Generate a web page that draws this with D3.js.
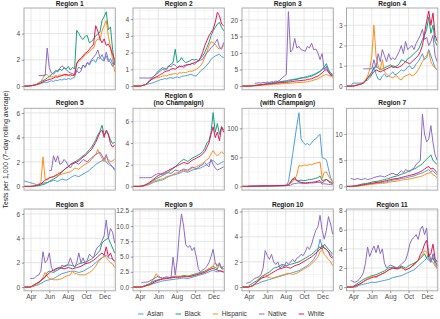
<!DOCTYPE html>
<html><head><meta charset="utf-8">
<script src="https://cdn.jsdelivr.net/npm/d3@7"></script>
<style>
body{margin:0;background:#fff}
svg{display:block}
text{font-family:"Liberation Sans",Arial,Helvetica,sans-serif}
</style>
</head><body>
<svg id="chart" width="440" height="319"></svg>
<script>
// ---------- DATA ----------
const dates = ["2020-03-09","2020-03-16","2020-03-23","2020-03-30","2020-04-06","2020-04-13","2020-04-20","2020-04-27",
"2020-05-04","2020-05-11","2020-05-18","2020-05-25","2020-06-01","2020-06-08","2020-06-15","2020-06-22","2020-06-29",
"2020-07-06","2020-07-13","2020-07-20","2020-07-27","2020-08-03","2020-08-10","2020-08-17","2020-08-24","2020-08-31",
"2020-09-07","2020-09-14","2020-09-21","2020-09-28","2020-10-05","2020-10-12","2020-10-19","2020-10-26",
"2020-11-02","2020-11-09","2020-11-16","2020-11-23","2020-11-30","2020-12-07","2020-12-14","2020-12-21","2020-12-28","2021-01-04"];

const regionTitles = ["Region 1","Region 2","Region 3","Region 4","Region 5","Region 6\n(no Champaign)",
"Region 6\n(with Champaign)","Region 7","Region 8","Region 9","Region 10","Region 11"];

const groups = ["Asian","Black","Hispanic","Native","White"];
const groupColors = ["#4B9FDB","#17A07A","#FF8C1A","#8C6BC8","#E3174F"];

const yUpper = [5.95, 4.66, 23.6, 3.85, 6.38, 7.2, 134.6, 14.9, 6.4, 12.8, 6.2, 8.18];
const yTicks = [[0,2,4],[0,1,2,3,4],[0,5,10,15,20],[0,1,2,3],[0,2,4,6],[0,2,4,6],[0,50,100],[0,5,10],
[0,2,4,6],[0,2.5,5,7.5,10,12.5],[0,2,4,6],[0,2,4,6,8]];
const yTickLabels = [["0","2","4"],["0","1","2","3","4"],["0","5","10","15","20"],["0","1","2","3"],["0","2","4","6"],
["0","2","4","6"],["0","50","100"],["0","5","10"],["0","2","4","6"],["0.0","2.5","5.0","7.5","10.0","12.5"],
["0","2","4","6"],["0","2","4","6","8"]];

const xTicks = ["2020-04-01","2020-06-01","2020-08-01","2020-10-01","2020-12-01"];
const xTickLabels = ["Apr","Jun","Aug","Oct","Dec"];
const xMinor = ["2020-05-01","2020-07-01","2020-09-01","2020-11-01","2021-01-01"];
const xLimits = ["2020-03-09","2021-01-06"];

const N = null;
const asian = [
[0,0,0,0.02,0.04,0.08,0.1,0.14,0.2,0.25,0.3,0.28,0.35,0.4,0.36,0.45,0.42,0.5,0.46,0.55,0.5,0.58,0.52,0.6,0.68,1.2,1.45,1.3,1.6,1.5,1.75,1.6,1.9,2.0,1.8,2.2,2.1,2.4,2.0,2.3,1.85,2.1,1.7,1.9],
[0,0,0,0,0.02,0.05,0.08,0.12,0.15,0.18,0.22,0.28,0.32,0.38,0.4,0.45,0.42,0.48,0.5,0.46,0.52,0.55,0.5,0.58,0.6,0.62,0.65,0.7,0.68,0.62,0.6,0.75,0.9,1.0,1.1,1.25,1.4,1.6,1.7,1.8,1.85,1.9,1.75,1.7],
[0,0,0,0,0.05,0.1,0.15,0.2,0.25,0.3,0.4,0.5,0.6,0.7,0.8,0.9,1.0,1.1,1.2,1.3,1.5,1.6,1.8,1.9,2.0,2.1,2.2,2.4,2.5,2.6,2.8,2.9,3.1,3.3,3.5,3.8,4.2,4.5,5.0,5.3,5.7,4.5,3.6,3.2],
[0,0,0,0.15,0.15,0.15,0.15,0.15,0.15,0.25,0.3,0.4,0.55,0.95,0.6,0.35,0.3,0.5,0.6,0.45,0.5,0.6,0.7,0.55,0.6,0.7,0.8,0.75,0.8,0.95,1.0,0.85,0.9,1.1,1.2,1.4,1.6,1.3,1.4,1.8,1.5,1.2,0.9,0.8],
[0.45,0.4,0.35,0.3,0.25,0.2,0.15,0.12,0.2,0.25,0.3,0.32,0.4,0.42,0.5,0.45,0.4,0.5,0.6,0.55,0.5,0.6,0.7,0.8,0.9,0.85,0.8,0.9,1.0,1.1,1.2,1.3,1.5,1.6,1.8,1.9,2.0,2.1,2.2,2.0,1.8,1.7,1.6,1.3],
[0,0,0,0,0.02,0.05,0.08,0.12,0.2,0.3,0.4,0.45,0.5,0.55,0.6,0.7,0.8,0.9,1.0,1.05,1.1,1.15,1.2,1.3,1.4,1.35,1.3,1.4,1.5,1.55,1.6,1.65,1.7,1.8,1.9,2.0,2.2,2.3,2.4,2.2,2.0,2.1,2.2,2.3],
[0,0,0,0,0.1,0.2,0.3,0.4,0.5,0.6,0.7,0.8,0.9,1.0,1.1,1.2,1.3,1.4,1.5,1.6,1.8,2,8,30,55,80,105,127,82,76,72,74,71,75,80,82,86,90,50,48,46,30,15,8],
[0,0,0,0,0.02,0.05,0.1,0.2,0.3,0.35,0.4,0.45,0.5,0.55,0.6,0.7,0.72,0.75,0.8,0.9,1.0,1.1,1.2,1.25,1.3,1.4,1.5,1.55,1.6,1.7,1.8,1.9,2.0,2.15,2.3,2.45,2.6,2.8,3.0,3.2,2.8,3.0,2.5,2.2],
[0,0,0,0,0.05,0.1,0.15,0.2,0.3,0.4,0.5,0.55,0.6,0.65,0.7,0.8,0.9,1.0,1.1,1.15,1.2,1.25,1.3,1.3,1.3,1.25,1.2,1.25,1.3,1.4,1.5,1.6,1.7,1.85,2.0,2.15,2.3,2.4,2.5,2.6,2.4,2.35,2.3,2.1],
[0,0,0,0,0.02,0.05,0.2,0.3,0.4,0.5,0.6,0.7,0.8,0.9,1.0,1.05,1.1,1.15,1.2,1.25,1.3,1.35,1.4,1.45,1.5,1.45,1.4,1.5,1.6,1.7,1.8,1.9,2.0,2.1,2.2,2.35,2.5,2.65,2.8,2.6,2.5,2.6,2.6,2.4],
[0,0,0,0,0.05,0.1,0.2,0.25,0.3,0.4,0.45,0.5,0.55,0.6,0.65,0.7,0.75,0.8,0.85,0.9,0.95,1.0,1.05,1.1,1.15,1.2,1.25,1.3,1.4,1.5,1.6,1.7,1.85,2.0,2.2,2.5,3.0,3.8,3.2,3.1,3.0,2.8,2.6,2.4],
[0,0,0,0,0,0.05,0.2,0.25,0.3,0.35,0.4,0.45,0.5,0.5,0.5,0.55,0.6,0.65,0.7,0.75,0.8,0.9,1.0,1.05,1.1,1.15,1.2,1.3,1.4,1.5,1.6,1.7,1.8,2.0,2.2,2.4,2.6,2.8,3.0,2.8,2.6,3.2,2.4,2.0]
];
const black = [
[0,0,0,0.02,0.05,0.1,0.15,0.25,0.35,0.42,0.5,0.62,0.72,0.9,1.0,1.2,1.08,1.3,1.18,1.4,1.3,1.5,1.22,1.42,1.3,4.25,4.0,3.7,3.55,3.8,3.85,3.3,3.4,3.6,3.8,4.0,4.1,5.0,5.3,5.66,4.3,4.5,2.8,1.6],
[0,0,0,0,0.02,0.06,0.1,0.2,0.38,0.5,0.6,0.75,0.9,1.0,1.1,1.05,1.0,1.2,1.3,1.4,2.2,1.4,1.5,1.7,1.5,1.4,1.45,1.5,1.6,1.55,1.6,1.5,1.65,1.8,2.0,2.3,2.6,3.0,3.3,3.5,3.7,3.8,3.5,3.3],
[0,0,0,0,0.05,0.1,0.2,0.3,0.4,0.45,0.5,0.6,0.8,0.9,1.0,1.1,1.2,1.25,1.3,1.4,1.5,1.45,1.5,1.7,1.8,2.0,2.0,2.2,2.4,2.5,2.5,2.7,2.9,3.0,3.3,3.6,4.0,4.4,5.0,5.8,6.8,5.0,4.0,3.5],
[0,0,0,0,0.02,0.05,0.08,0.1,0.15,0.25,0.4,0.55,0.7,0.9,1.0,0.9,0.8,0.85,0.9,0.95,1.0,1.05,0.9,0.95,1.0,1.1,1.3,1.25,1.2,1.35,1.4,1.5,1.6,1.7,1.8,2.0,2.3,2.5,2.8,3.4,2.6,3.0,2.2,2.0],
[0,0,0,0,0,0.02,0.04,0.06,0.1,0.15,0.2,0.3,0.4,0.5,0.6,0.7,0.8,1.0,1.2,1.35,1.5,1.6,1.8,1.9,2.0,2.1,2.2,2.35,2.5,2.6,2.8,3.0,3.2,3.5,3.8,4.2,4.5,5.0,4.2,4.5,4.2,3.8,3.5,3.6],
[0,0,0,0,0.02,0.05,0.15,0.25,0.3,0.45,0.6,0.7,0.8,0.9,1.0,1.1,1.2,1.35,1.5,1.65,1.8,2.0,2.2,2.35,2.5,2.4,2.3,2.45,2.6,2.7,2.8,2.9,3.0,3.2,3.5,4.0,4.2,5.0,6.8,5.0,5.8,4.8,5.5,5.2],
[0,0,0,0,0.05,0.1,0.15,0.2,0.25,0.3,0.35,0.4,0.45,0.5,0.55,0.6,0.65,0.7,0.8,0.9,1.0,1.2,2,6,12,12,10,10,11,10,10,11,12,12,13,14,15,18,10,11,12,10,8,6],
[0,0,0,0.05,0.1,0.2,0.3,0.4,0.5,0.55,0.6,0.7,0.8,0.9,0.95,1.0,1.1,1.2,1.3,1.4,1.5,1.65,1.8,1.9,2.0,2.15,2.3,2.45,2.6,2.8,3.0,3.15,3.3,3.5,3.8,4.0,4.3,4.8,5.2,5.6,6.0,5.0,4.5,4.2],
[0,0,0,0,0.1,0.2,0.3,0.4,0.5,0.65,0.8,1.2,1.3,1.25,1.2,1.3,1.4,1.5,1.6,1.7,1.8,1.8,1.8,1.75,1.7,1.8,1.9,1.95,2.0,2.05,2.1,2.2,2.3,2.45,2.6,2.8,3.0,3.6,3.8,3.9,4.0,3.6,3.2,2.8],
[0,0,0,0,0.05,0.15,0.3,0.45,0.6,0.8,1.0,1.1,1.2,1.3,1.4,1.45,1.5,1.55,1.6,1.7,1.8,1.75,1.7,1.8,1.9,1.85,1.8,1.9,2.0,2.1,2.2,2.3,2.4,2.5,2.6,2.8,3.0,3.2,3.4,3.2,3.0,3.8,3.2,3.0],
[0,0,0,0.05,0.2,0.3,0.4,0.5,0.65,0.8,0.9,1.0,1.1,1.2,1.35,1.5,1.55,1.6,1.7,1.8,1.75,1.7,1.75,1.8,1.85,1.9,1.95,2.0,2.1,2.2,2.3,2.4,2.5,2.6,2.75,2.9,3.05,3.2,3.0,3.4,3.2,3.0,2.8,2.6],
[0,0,0,0.05,0.2,0.35,0.5,0.65,0.8,0.9,1.0,1.1,1.2,1.25,1.3,1.4,1.5,1.6,1.7,1.85,2.0,2.05,2.1,2.05,2.0,2.1,2.2,2.1,2.0,2.15,2.3,2.4,2.5,2.65,2.8,3.0,3.2,3.5,3.0,3.6,2.8,3.0,2.6,2.4]
];
const hispanic = [
[0,0,0,0.02,0.04,0.08,0.12,0.2,0.35,0.6,0.9,0.85,0.7,0.75,0.7,0.8,0.75,0.85,0.8,0.9,0.78,0.85,0.75,0.9,0.8,1.8,1.9,2.0,2.2,2.4,2.5,2.6,2.8,2.9,3.4,3.6,3.5,4.2,4.6,5.0,3.8,3.0,2.0,1.1],
[0,0,0,0,0.02,0.05,0.1,0.18,0.3,0.4,0.45,0.5,0.5,0.55,0.6,0.62,0.6,0.68,0.7,0.72,0.75,0.7,0.8,0.78,0.82,0.8,0.85,0.9,0.88,0.95,1.0,1.1,1.2,1.4,1.7,2.0,2.4,2.65,2.6,2.5,2.3,2.2,2.35,2.4],
[0,0,0,0,0.02,0.05,0.08,0.1,0.12,0.2,0.3,0.35,0.4,0.45,0.5,0.55,0.6,0.6,0.62,0.7,0.75,0.8,0.8,0.85,0.9,1.0,1.0,1.1,1.1,1.2,1.2,1.3,1.45,1.6,1.8,2.0,2.2,2.6,3.0,3.3,3.5,3.2,3.0,2.6],
[0,0,0,0,0.02,0.04,0.08,0.12,0.2,0.3,0.5,0.8,1.5,3.0,1.5,1.0,0.8,1.3,0.7,0.6,0.5,0.45,0.4,0.5,0.5,0.35,0.3,0.45,0.5,0.55,0.6,0.5,0.55,0.65,0.8,1.0,1.2,1.4,1.5,1.7,1.2,1.0,0.9,0.8],
[0,0,0,0,0.02,0.05,0.1,0.2,0.3,2.4,0.6,0.5,0.7,0.75,0.8,0.85,0.9,0.95,1.0,1.05,1.1,1.15,1.2,1.3,1.5,1.45,1.4,1.55,1.7,1.8,1.9,2.0,2.2,2.4,2.6,3.0,2.6,2.3,2.0,2.4,2.2,2.0,2.1,2.2],
[0,0,0,0,0.02,0.04,0.1,0.2,0.3,0.4,0.5,0.55,0.6,0.65,0.7,0.8,0.9,0.95,1.0,1.1,1.2,1.25,1.3,1.4,1.5,1.45,1.4,1.55,1.7,1.75,1.8,1.9,2.0,2.15,2.3,2.45,2.6,3.0,3.3,3.0,2.8,3.0,3.2,3.0],
[0,0,0,0,0.05,0.1,0.15,0.2,0.3,0.35,0.4,0.5,0.6,0.7,0.8,0.9,1.0,1.1,1.2,1.3,1.5,1.8,2.5,5,8,12,20,36,35,36,37,36,38,37,39,40,41,42,14,24,25,18,12,8],
[0,0,0,0,0.02,0.05,0.1,0.15,0.2,0.25,0.3,0.35,0.4,0.45,0.5,0.55,0.58,0.6,0.6,0.7,0.8,0.85,0.9,0.95,1.0,1.1,1.2,1.25,1.3,1.35,1.4,1.5,1.6,1.7,1.8,1.9,2.0,2.2,2.4,2.55,2.7,2.2,2.0,1.6],
[0,0,0,0,0.05,0.1,0.2,0.3,0.5,0.8,1.2,0.9,0.7,0.65,0.6,0.6,0.6,0.65,0.7,0.8,0.9,0.95,1.0,1.3,1.1,1.1,1.0,1.0,1.0,1.0,1.1,1.2,1.3,1.5,1.7,2.0,2.2,2.4,2.6,2.4,2.2,2.0,1.9,1.6],
[0,0,0,0,0.02,0.1,0.2,0.35,0.5,1.0,1.5,2.2,1.6,1.5,1.4,1.45,1.5,1.55,1.6,1.65,1.7,1.75,1.8,1.75,1.7,1.75,1.8,1.85,1.9,1.95,2.0,2.1,2.2,2.35,2.5,2.75,3.0,3.2,3.5,4.0,3.2,3.5,3.0,2.8],
[0,0,0,0,0.05,0.1,0.2,0.35,0.5,0.65,0.8,1.0,0.8,0.75,0.7,0.75,0.8,0.85,0.9,0.95,1.0,1.05,1.1,1.05,1.0,1.05,1.1,1.2,1.3,1.4,1.5,1.6,1.7,1.85,2.0,2.2,2.4,2.8,3.0,2.6,2.4,2.2,2.0,1.7],
[0,0,0,0,0.05,0.15,0.3,0.45,0.6,0.75,0.9,1.0,1.1,1.2,1.0,1.15,1.3,1.4,1.5,1.65,1.8,1.9,2.0,1.95,1.9,1.95,2.0,1.9,1.8,1.9,2.0,2.15,2.3,2.55,2.8,3.1,3.4,3.8,3.7,3.0,2.8,2.6,2.2,1.9]
];
const native = [
[N,N,N,N,N,N,N,0.8,0.8,0.82,0.8,2.9,1.4,1.0,0.9,1.1,1.2,1.35,1.55,1.4,1.25,1.1,1.0,0.95,0.85,1.2,1.0,1.15,1.6,1.4,1.8,1.7,2.0,2.2,2.4,2.75,2.2,2.0,1.9,2.6,2.0,1.8,1.5,2.0],
[N,N,N,0.48,0.48,0.48,0.48,0.48,0.48,0.5,0.6,0.7,0.8,0.9,1.0,0.95,1.1,1.2,1.15,1.3,1.25,1.1,1.15,1.2,1.1,1.2,1.25,1.3,1.35,1.3,1.4,1.5,1.55,1.6,1.8,2.0,2.1,2.3,2.4,2.6,2.8,2.3,2.2,2.6],
[N,N,N,N,N,N,0.8,0.9,1.0,0.9,1.1,1.0,1.2,1.1,1.3,1.2,1.5,1.4,1.8,2.5,3.0,3.5,22.5,10.3,11.0,14.4,11.5,12.0,11.0,10.8,10.5,12.0,11.5,13.0,11.0,11.2,10.0,8.0,9.8,5.0,6.0,4.2,3.2,3.5],
[N,N,N,N,N,N,N,N,0.85,0.85,0.85,0.85,0.85,1.3,0.9,1.6,1.2,1.8,1.5,1.2,1.6,1.3,1.4,1.3,1.5,1.7,2.0,1.6,2.2,1.8,1.9,2.0,1.8,2.1,2.3,2.5,2.8,2.3,2.4,2.0,2.2,2.5,1.5,1.2],
[N,N,N,N,N,N,N,N,N,N,N,N,1.3,1.3,2.5,2.0,2.5,1.8,1.9,2.2,2.0,1.7,1.5,1.8,2.0,1.9,1.8,2.0,2.2,2.1,2.0,2.2,2.3,2.5,2.6,2.7,2.8,2.5,2.2,2.6,2.0,1.8,1.6,1.4],
[N,N,N,0.8,0.8,0.8,0.8,0.8,0.8,0.85,1.0,1.1,1.2,1.15,1.1,1.2,1.3,1.25,1.2,1.35,1.5,1.45,1.4,1.5,1.6,1.55,1.5,1.65,1.8,1.7,1.6,1.75,1.9,2.0,2.2,2.0,1.8,2.5,2.0,1.7,1.5,1.6,1.7,1.8],
[N,N,N,0.8,0.8,0.8,0.8,0.8,0.8,0.9,1.0,1.1,1.2,1.1,1.2,1.3,1.2,1.3,1.4,1.5,1.4,1.5,1.6,2,4,5,5.5,6,5.5,5,5.2,5,5.5,6,6,6.5,7,7,4,4.5,4,3.5,3,3],
[N,N,1.5,1.4,1.3,1.5,1.4,1.3,1.4,1.5,1.3,1.4,1.5,1.7,1.8,1.9,2.0,1.9,1.8,2.0,2.2,2.4,2.5,2.3,2.2,2.6,3.0,2.6,3.2,3.0,2.8,3.2,3.5,4.2,4.5,5.0,13.8,10.0,8.5,9.0,11.6,8.4,6.0,5.0],
[N,N,N,0.7,0.7,0.75,0.9,1.0,1.3,2.9,2.0,2.2,2.8,1.6,1.3,1.4,1.6,1.5,1.8,1.7,1.7,1.9,2.4,1.9,1.6,2.0,2.8,2.0,2.4,1.9,2.2,2.7,2.5,2.4,3.0,3.3,3.4,3.8,4.2,5.5,4.0,4.8,4.5,3.6],
[N,N,N,N,0.7,0.8,0.8,0.85,1.0,1.2,1.4,1.6,1.8,1.6,1.5,1.6,1.7,1.6,1.5,4.9,2.0,4.5,9.0,12.0,10.0,7.0,6.5,6.8,6.0,6.5,5.0,3.0,2.5,2.8,3.0,3.4,4.0,5.0,6.2,4.0,3.5,4.0,3.0,3.5],
[N,N,0.3,0.35,0.4,0.55,0.7,0.75,0.8,1.0,1.5,2.9,2.5,2.2,2.6,2.0,1.8,2.0,1.5,1.7,1.6,2.0,1.8,2.0,2.2,2.0,2.3,2.4,2.6,2.5,2.8,3.2,3.0,3.4,4.0,4.5,4.8,5.7,4.5,3.8,4.5,5.6,5.0,4.2],
[N,N,0.7,0.6,0.5,0.6,0.8,1.1,1.5,2.5,4.2,3.2,3.8,4.3,3.6,4.4,3.5,4.0,2.5,2.0,2.2,2.3,2.2,2.1,2.0,2.2,2.4,2.6,2.8,3.5,4.5,5.0,5.2,5.5,5.0,6.0,6.4,5.5,6.2,3.0,2.6,3.5,2.8,2.2]
];
const white = [
[0,0,0,0.02,0.04,0.08,0.12,0.18,0.25,0.32,0.4,0.45,0.5,0.55,0.6,0.7,0.68,0.75,0.8,0.85,0.9,0.82,0.88,0.8,0.85,1.7,2.0,2.1,2.3,2.5,2.6,2.8,3.0,3.2,4.6,4.2,3.6,3.3,3.6,3.1,3.2,2.9,2.4,2.0],
[0,0,0,0,0.02,0.05,0.1,0.2,0.3,0.42,0.5,0.55,0.6,0.7,0.75,0.85,0.9,0.92,1.0,1.05,1.0,1.1,1.2,1.15,1.2,1.25,1.3,1.28,1.35,1.4,1.45,1.5,1.7,2.0,2.4,2.7,3.0,3.2,3.4,3.8,4.4,4.2,3.7,3.6],
[0,0,0,0,0.05,0.1,0.15,0.2,0.3,0.4,0.5,0.55,0.6,0.65,0.7,0.8,0.85,0.9,1.0,1.05,1.1,1.15,1.2,1.3,1.35,1.5,1.55,1.6,1.7,1.75,1.8,2.0,2.1,2.2,2.5,2.8,3.0,3.5,4.0,4.6,5.0,4.2,3.5,3.0],
[0,0,0,0,0.02,0.05,0.08,0.1,0.15,0.25,0.4,0.5,0.6,0.7,0.8,0.75,0.7,0.75,0.8,0.85,0.9,0.95,1.0,0.95,0.9,0.95,1.0,1.1,1.2,1.15,1.1,1.2,1.3,1.4,1.5,1.7,2.0,2.6,3.2,3.7,3.0,3.6,2.5,2.2],
[0,0,0,0,0.02,0.05,0.08,0.12,0.2,0.35,0.5,0.6,0.7,0.75,0.8,0.9,1.0,1.1,1.2,1.35,1.5,1.6,1.8,1.85,1.9,2.0,2.1,2.25,2.4,2.5,2.7,2.85,3.0,3.3,3.6,4.0,4.4,4.6,4.0,4.6,4.3,3.5,3.2,3.4],
[0,0,0,0,0.03,0.08,0.15,0.25,0.4,0.55,0.7,0.85,1.0,1.1,1.2,1.3,1.4,1.5,1.6,1.7,1.8,1.9,2.0,2.1,2.2,2.15,2.1,2.25,2.4,2.5,2.6,2.7,2.8,3.0,3.2,3.6,4.0,4.8,5.5,4.5,5.0,4.2,5.5,5.0],
[0,0,0,0,0.05,0.1,0.2,0.3,0.4,0.5,0.6,0.7,0.8,0.9,1.0,1.1,1.2,1.3,1.4,1.5,1.6,1.8,3,8,13,15,10,8,7,6.5,6,6.5,7,7,7.5,8,9,10,6,9,12,8,6,5],
[0,0,0,0.02,0.08,0.12,0.18,0.25,0.3,0.38,0.45,0.55,0.6,0.65,0.72,0.8,0.85,0.92,1.0,1.1,1.2,1.3,1.4,1.45,1.5,1.6,1.7,1.8,1.9,2.0,2.1,2.2,2.3,2.45,2.6,2.8,3.0,3.3,3.6,3.8,3.3,3.5,3.0,2.6],
[0,0,0,0,0.1,0.2,0.3,0.4,0.55,0.7,0.85,1.0,1.15,1.3,1.4,1.5,1.55,1.6,1.55,1.5,1.55,1.6,1.55,1.5,1.55,1.6,1.65,1.7,1.8,1.9,1.95,2.0,2.1,2.2,2.35,2.5,2.65,2.8,2.6,3.3,2.5,2.8,2.3,2.1],
[0,0,0,0,0.02,0.1,0.2,0.3,0.4,0.6,0.8,0.95,1.1,1.2,1.3,1.35,1.4,1.45,1.5,1.55,1.6,1.6,1.6,1.65,1.7,1.7,1.7,1.75,1.8,1.9,2.0,2.1,2.2,2.3,2.4,2.6,2.8,2.95,3.1,2.9,2.8,2.7,2.6,2.5],
[0,0,0,0,0.05,0.1,0.25,0.4,0.55,0.7,0.75,0.8,0.9,1.0,1.1,1.2,1.3,1.4,1.45,1.5,1.55,1.6,1.55,1.5,1.6,1.7,1.75,1.8,1.9,2.0,2.1,2.2,2.3,2.4,2.55,2.7,2.85,3.0,3.3,3.1,3.0,2.8,2.4,2.3],
[0,0,0,0,0.1,0.2,0.3,0.4,0.55,0.7,0.8,0.9,1.0,1.05,1.1,1.2,1.3,1.4,1.5,1.65,1.8,1.9,2.0,1.95,1.9,2.0,2.1,1.95,1.8,1.9,2.0,2.2,2.4,2.6,2.8,3.4,3.8,4.5,4.9,3.2,3.5,4.5,3.0,2.6]
];
const seriesByGroup = [asian, black, hispanic, native, white];

// ---------- LAYOUT ----------
const colLeft = [24, 133, 242, 346.5];
const panelW = 91.3;
const rowTop = [8, 108.3, 209];
const panelH = 81.8;
const stripGap = [2.3, 2.9, 1.9];
const FONT = 6.6;

const parse = d3.timeParse("%Y-%m-%d");
const dateObjs = dates.map(parse);

const svg = d3.select("#chart");
svg.append("rect").attr("width",440).attr("height",319).attr("fill","#fff");

regionTitles.forEach((title, p) => {
  const col = p % 4, row = Math.floor(p / 4);
  const x0 = colLeft[col], y0 = rowTop[row];
  const x = d3.scaleTime().domain(xLimits.map(parse)).range([0, panelW]);
  const hi = yUpper[p];
  const y = d3.scaleLinear().domain([-hi * 0.0476, hi]).range([panelH, 0]);
  const g = svg.append("g").attr("transform", `translate(${x0},${y0})`);

  // minor y grid
  const tk = yTicks[p];
  const step = tk[1] - tk[0];
  const yMin = [];
  for (let k = -1; k < tk.length; k++) {
    const v = tk[0] + step * (k + 0.5);
    if (v > y.domain()[0] && v < y.domain()[1]) yMin.push(v);
  }
  g.selectAll(".ymin").data(yMin).join("line")
    .attr("x1",0).attr("x2",panelW).attr("y1",d=>y(d)).attr("y2",d=>y(d))
    .attr("stroke","#ededed").attr("stroke-width",0.5);
  g.selectAll(".xmin").data(xMinor.map(parse).filter(d=>d>x.domain()[0]&&d<x.domain()[1])).join("line")
    .attr("y1",0).attr("y2",panelH).attr("x1",d=>x(d)).attr("x2",d=>x(d))
    .attr("stroke","#ededed").attr("stroke-width",0.5);
  g.selectAll(".ymaj").data(tk).join("line")
    .attr("x1",0).attr("x2",panelW).attr("y1",d=>y(d)).attr("y2",d=>y(d))
    .attr("stroke","#dedede").attr("stroke-width",0.8);
  g.selectAll(".xmaj").data(xTicks.map(parse)).join("line")
    .attr("y1",0).attr("y2",panelH).attr("x1",d=>x(d)).attr("x2",d=>x(d))
    .attr("stroke","#dedede").attr("stroke-width",0.8);

  // clip
  const cid = "clip" + p;
  g.append("clipPath").attr("id", cid).append("rect").attr("width", panelW).attr("height", panelH);
  const lines = g.append("g").attr("clip-path", `url(#${cid})`);
  const lineGen = d3.line().defined(d => d[1] != null)
    .x(d => x(d[0])).y(d => y(d[1]));
  groups.forEach((grp, gi) => {
    const vals = seriesByGroup[gi][p];
    const pts = dateObjs.map((d, i) => [d, vals[i] === undefined ? null : vals[i]]);
    lines.append("path").attr("d", lineGen(pts))
      .attr("fill","none").attr("stroke", groupColors[gi])
      .attr("stroke-width", 1).attr("stroke-linejoin","round");
  });

  // border
  g.append("rect").attr("width", panelW).attr("height", panelH)
    .attr("fill","none").attr("stroke","#a3a3a3").attr("stroke-width",0.9);

  // y axis
  const ya = g.append("g").call(d3.axisLeft(y).tickValues(tk)
    .tickFormat((d,i)=>yTickLabels[p][i]).tickSize(2.2).tickPadding(1.6));
  ya.select(".domain").remove();
  ya.selectAll("line").attr("stroke","#555").attr("stroke-width",0.6);
  ya.selectAll("text").attr("fill","#4d4d4d").style("font-size", FONT + "px")
    .style("font-family",'"Liberation Sans",Arial,sans-serif');

  // x axis on bottom row
  if (row === 2) {
    const xa = g.append("g").attr("transform", `translate(0,${panelH})`)
      .call(d3.axisBottom(x).tickValues(xTicks.map(parse))
        .tickFormat((d,i)=>xTickLabels[i]).tickSize(2.2).tickPadding(1.2));
    xa.select(".domain").remove();
    xa.selectAll("line").attr("stroke","#555").attr("stroke-width",0.6);
    xa.selectAll("text").attr("fill","#4d4d4d").style("font-size", FONT + "px")
      .style("font-family",'"Liberation Sans",Arial,sans-serif');
  }

  // strip title
  const parts = title.split("\n");
  const lh = 7.3;
  parts.forEach((t, li) => {
    g.append("text").attr("x", panelW / 2)
      .attr("y", -stripGap[row] - (parts.length - 1 - li) * lh)
      .attr("text-anchor","middle").attr("font-weight","bold")
      .style("font-size", FONT + "px").attr("fill","#1a1a1a").text(t);
  });
});

// y axis title
svg.append("text").attr("transform", `translate(7.5,${(rowTop[0] + rowTop[2] + panelH) / 2}) rotate(-90)`)
  .attr("text-anchor","middle").style("font-size", "6.8px").attr("fill","#1a1a1a")
  .text("Tests per 1,000 (7\u2212day rolling average)");

// legend
const legY = 314;
let lx = 138;
groups.forEach((grp, gi) => {
  svg.append("line").attr("x1", lx).attr("x2", lx + 5.5).attr("y1", legY).attr("y2", legY)
    .attr("stroke", groupColors[gi]).attr("stroke-width", 1);
  const t = svg.append("text").attr("x", lx + 9).attr("y", legY + 2.4)
    .style("font-size", FONT + "px").attr("fill","#333").text(grp);
  lx += 9 + t.node().getComputedTextLength() + 12;
});
</script>
</body></html>
